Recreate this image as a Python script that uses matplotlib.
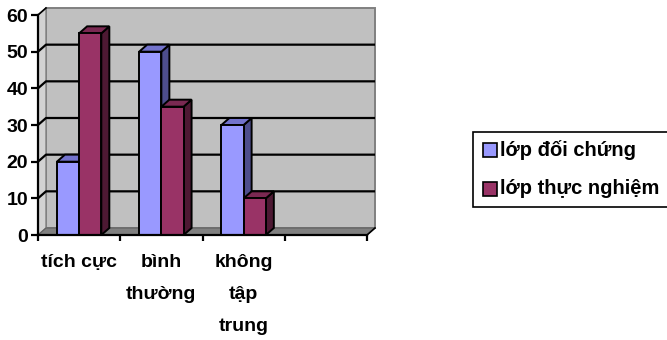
import matplotlib.pyplot as plt
from matplotlib.patches import Polygon, Rectangle

plt.rcParams['font.family'] = ['Liberation Sans', 'DejaVu Sans']
plt.rcParams['font.weight'] = 'bold'

categories = ['tích cực', 'bình\nthường', 'không\ntập\ntrung', '']
series_names = ['lớp đối chứng', 'lớp thực nghiệm']
doi_chung = [20, 50, 30]
thuc_nghiem = [55, 35, 10]
y_ticks = [0, 10, 20, 30, 40, 50, 60]

face_colors = ['#9999FF', '#993366']
side_colors = ['#4D4D8C', '#4D1933']
top_colors = ['#7373CC', '#7A2952']

W, H = 667, 340
fig = plt.figure(figsize=(W / 100, H / 100), dpi=100)

# front plane of the plot: x 38..367 px, y 15..235 px
ax = fig.add_axes([38 / W, 1 - 235 / H, 329 / W, 220 / H])
ax.set_xlim(0, 4)
ax.set_ylim(0, 60)

# depth offset of the 3d box, in data units
dx = 8 / 82.25
dy = 7 / (220 / 60)

n_cat = len(categories)
top = y_ticks[-1]

# back wall
ax.add_patch(Polygon([(dx, dy), (n_cat + dx, dy), (n_cat + dx, top + dy), (dx, top + dy)],
                     closed=True, facecolor='#C0C0C0', edgecolor='#808080', lw=1.4, clip_on=False, zorder=1))
# left side wall
ax.add_patch(Polygon([(0, 0), (dx, dy), (dx, top + dy), (0, top)],
                     closed=True, facecolor='#D2D2D2', edgecolor='#808080', lw=1.0, clip_on=False, zorder=1))
# floor
ax.add_patch(Polygon([(0, 0), (n_cat, 0), (n_cat + dx, dy), (dx, dy)],
                     closed=True, facecolor='#808080', edgecolor='#606060', lw=0.8, clip_on=False, zorder=1))

# gridlines on back and side walls
for v in y_ticks[1:-1]:
    ax.plot([0, dx, n_cat + dx], [v, v + dy, v + dy], color='black', lw=1.6,
            clip_on=False, zorder=2, solid_capstyle='butt')
ax.plot([0, dx], [top, top + dy], color='black', lw=1.2, clip_on=False, zorder=2)
ax.plot([n_cat, n_cat + dx], [0, dy], color='black', lw=1.2, clip_on=False, zorder=2)

bar_w = 0.27


def draw_bar(x0, h, k):
    x1 = x0 + bar_w
    kw = dict(closed=True, edgecolor='black', lw=1.4, clip_on=False, zorder=3, joinstyle='miter')
    ax.add_patch(Polygon([(x1, 0), (x1 + dx, dy), (x1 + dx, h + dy), (x1, h)], facecolor=side_colors[k], **kw))
    ax.add_patch(Polygon([(x0, h), (x1, h), (x1 + dx, h + dy), (x0 + dx, h + dy)], facecolor=top_colors[k], **kw))
    ax.add_patch(Polygon([(x0, 0), (x1, 0), (x1, h), (x0, h)], facecolor=face_colors[k], **kw))


for i in range(len(doi_chung)):
    draw_bar(i + 0.5 - bar_w, doi_chung[i], 0)
    draw_bar(i + 0.5, thuc_nghiem[i], 1)

for s in ['top', 'right']:
    ax.spines[s].set_visible(False)
for s in ['left', 'bottom']:
    ax.spines[s].set_linewidth(1.6)
    ax.spines[s].set_zorder(5)
ax.set_facecolor('none')

ax.set_yticks(y_ticks)
ax.set_yticklabels([str(v) for v in y_ticks], fontsize=14, fontweight='bold')
ax.tick_params(axis='y', direction='out', length=5, width=1.6, pad=2)

ax.set_xticks(range(n_cat + 1))
ax.set_xticklabels([])
ax.tick_params(axis='x', which='major', direction='out', length=4, width=1.6)
ax.set_xticks([i + 0.5 for i in range(n_cat)], minor=True)
ax.set_xticklabels(categories, minor=True, fontsize=14, fontweight='bold')
ax.tick_params(axis='x', which='minor', length=0, pad=14)
for lbl in ax.get_xticklabels(minor=True):
    lbl.set_linespacing(2.15)

# legend box, cut by the right edge of the image
fig.patches.append(Rectangle((473 / W, 1 - 207 / H), 200 / W, 75 / H, transform=fig.transFigure,
                             facecolor='white', edgecolor='black', lw=1.2))
for k, name in enumerate(series_names):
    yc = 150 + 39 * k
    fig.patches.append(Rectangle((483 / W, 1 - (yc + 7) / H), 14 / W, 14 / H, transform=fig.transFigure,
                                 facecolor=face_colors[k], edgecolor='black', lw=1.2))
    fig.text(500 / W, 1 - yc / H, name, fontsize=14.5, fontweight='bold', va='center', ha='left')

fig.savefig('out.png', dpi=100)
